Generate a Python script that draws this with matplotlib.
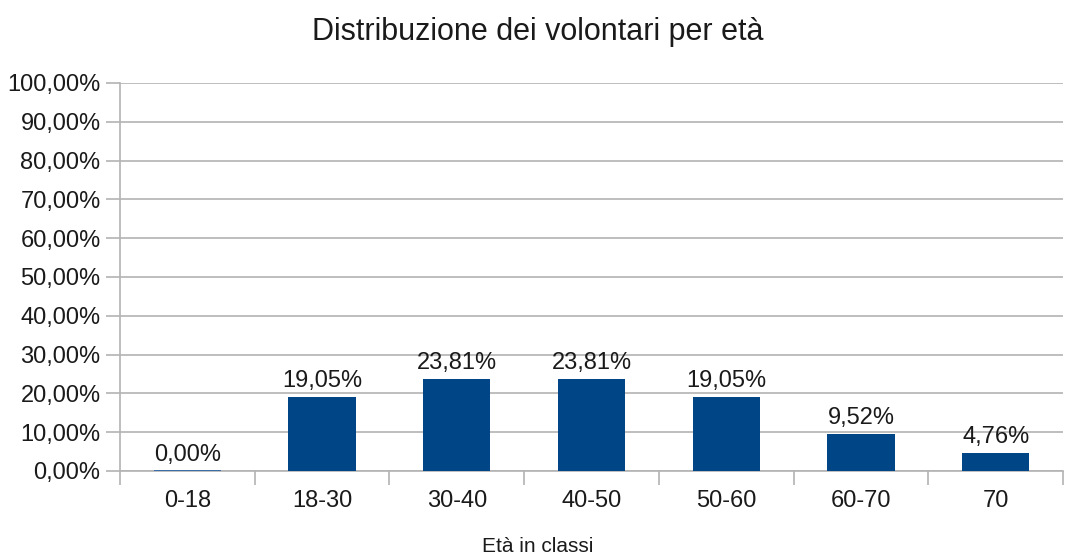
import numpy as np
import matplotlib
matplotlib.use("Agg")
import matplotlib.pyplot as plt
from matplotlib.ticker import FuncFormatter

plt.rcParams['font.family'] = ['Liberation Sans', 'DejaVu Sans']

classi = ["0-18", "18-30", "30-40", "40-50", "50-60", "60-70", "70"]
percentuali = [0.00, 19.05, 23.81, 23.81, 19.05, 9.52, 4.76]

grid_col = "#b3b3b3"
bar_col = "#004586"

fig = plt.figure(figsize=(10.75, 5.54), dpi=100)
ax = fig.add_axes([120/1075, 1 - 471/554, 943/1075, 388/554])

x = np.arange(len(classi))
bars = ax.bar(x, percentuali, width=0.5, color=bar_col, zorder=3)
# la barra 0-18 e' una linea sottile
ax.bar(x[0], 0.25, width=0.5, color="#3a6ea5", zorder=3)

for xi, v in zip(x, percentuali):
    ax.text(xi, v + 1.2, f"{v:.2f}%".replace(".", ","), ha="center", va="bottom",
            fontsize=17, color="#1a1a1a")

ax.set_xlim(-0.5, len(classi) - 0.5)
ax.set_ylim(0, 100)
ax.set_yticks(np.arange(0, 101, 10))
ax.yaxis.set_major_formatter(FuncFormatter(lambda v, p: f"{v:.2f}%".replace(".", ",")))
ax.set_xticks(x)
ax.set_xticklabels(classi)
ax.set_xticks(np.arange(-0.5, len(classi), 1), minor=True)

ax.grid(axis="y", color=grid_col, linewidth=1.2, zorder=0)
ax.tick_params(axis="y", length=10, color=grid_col, width=1.2, labelsize=17, pad=4, labelcolor="#1a1a1a")
ax.tick_params(axis="x", which="major", length=0, labelsize=17, pad=14, labelcolor="#1a1a1a")
ax.tick_params(axis="x", which="minor", length=10, color=grid_col, width=1.2)

for s in ["top", "right"]:
    ax.spines[s].set_visible(False)
for s in ["left", "bottom"]:
    ax.spines[s].set_color(grid_col)
    ax.spines[s].set_linewidth(1.2)

fig.text(0.5, 1 - 32/554, "Distribuzione dei volontari per età", fontsize=22,
         ha="center", va="center", color="#1a1a1a")
fig.text(0.5, 2/554, "Età in classi", fontsize=15, ha="center", va="baseline", color="#1a1a1a")

fig.savefig("out.png", dpi=100)
